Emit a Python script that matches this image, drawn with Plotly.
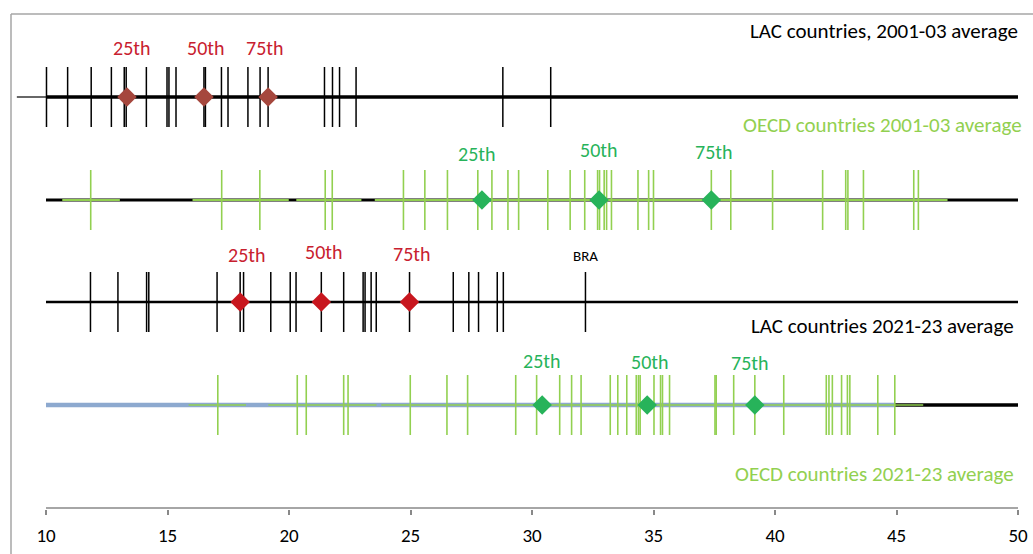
import plotly.graph_objects as go

# ---------------- data ----------------
lac_2001 = [10.02, 10.89, 11.86, 12.69, 13.22, 13.30, 14.13, 14.98, 15.06, 15.35,
            16.50, 16.56, 17.22, 17.49, 18.31, 18.81, 19.14, 21.46, 21.79, 22.08,
            22.76, 28.80, 30.77]
lac_2001_pct = [13.33, 16.50, 19.14]

oecd_2001 = [11.84, 17.23, 18.80, 21.49, 21.78, 24.71, 25.59, 26.52, 27.77, 28.35,
             29.01, 29.45, 30.65, 31.57, 32.17, 32.70, 32.78, 32.97, 33.07, 33.27,
             34.36, 34.80, 35.00, 37.38, 38.18, 39.90, 41.96, 42.91, 43.00, 43.64,
             45.71, 45.90]
oecd_2001_pct = [27.94, 32.76, 37.38]

lac_2021 = [11.83, 12.96, 14.14, 14.23, 17.04, 17.99, 18.13, 19.25, 20.05, 20.29,
            21.33, 22.25, 23.05, 23.13, 23.38, 23.59, 24.96, 26.76, 27.40, 27.80,
            28.57, 28.82, 32.20]
lac_2021_pct = [17.99, 21.33, 24.96]
bra_2021 = 32.20

oecd_2021 = [17.07, 20.34, 20.71, 22.25, 22.43, 24.99, 26.50, 27.35, 29.33, 30.19,
             31.14, 31.63, 32.02, 33.22, 33.53, 33.90, 34.29, 34.38, 34.45, 35.02,
             35.29, 35.37, 35.66, 37.53, 37.58, 38.30, 39.17, 40.36, 42.11, 42.22,
             42.36, 42.74, 42.98, 43.08, 44.23, 44.93]
oecd_2021_pct = [30.42, 34.74, 39.17]

pct_labels = ["25th", "50th", "75th"]
tick_vals = [10, 15, 20, 25, 30, 35, 40, 45, 50]
titles = ["LAC countries, 2001-03 average", "OECD countries 2001-03 average",
          "LAC countries 2021-23 average", "OECD countries 2021-23 average"]

# ---------------- styling / layout constants ----------------
FONT = "Carlito, Lato, sans-serif"
BLACK = "#000000"
LGREEN = "#92D050"
DGREEN = "#27B35A"
RED_TXT = "#C8202F"
RED1 = "#A5473D"
RED3 = "#C8161E"
BLUE = "#8DA9CF"
AXIS_GRAY = "#898989"

ROW_Y = [97, 200, 302, 405]   # baseline pixel rows (y axis is pixel-like)
HALF = 30
PLOT_L, PLOT_W = 11, 1007

fig = go.Figure()


def hline(x0, x1, y, color, width):
    fig.add_trace(go.Scatter(x=[x0, x1], y=[y, y], mode="lines",
                             line=dict(color=color, width=width),
                             hoverinfo="skip", showlegend=False))


def vlines(vals, y, color, width):
    xs, ys = [], []
    for v in vals:
        xs += [v, v, None]
        ys += [y - HALF, y + HALF, None]
    fig.add_trace(go.Scatter(x=xs, y=ys, mode="lines",
                             line=dict(color=color, width=width),
                             hoverinfo="skip", showlegend=False))


def diamonds(vals, y, color):
    fig.add_trace(go.Scatter(x=vals, y=[y] * len(vals), mode="markers",
                             marker=dict(symbol="diamond", size=15, color=color),
                             hoverinfo="skip", showlegend=False, cliponaxis=False))


# Row 1: LAC 2001-03
hline(8.8, 10, ROW_Y[0], BLACK, 1.2)
hline(10, 50, ROW_Y[0], BLACK, 3.5)
vlines(lac_2001, ROW_Y[0], BLACK, 1.5)
diamonds(lac_2001_pct, ROW_Y[0], RED1)

# Row 2: OECD 2001-03
hline(10, 50, ROW_Y[1], BLACK, 3)
for a, b in [(10.67, 13.04), (16.03, 19.99), (20.30, 22.98), (23.53, 47.1)]:
    hline(a, b, ROW_Y[1], LGREEN, 1.8)
vlines(oecd_2001, ROW_Y[1], LGREEN, 1.6)
diamonds(oecd_2001_pct, ROW_Y[1], DGREEN)

# Row 3: LAC 2021-23
hline(10, 50, ROW_Y[2], BLACK, 2.6)
vlines(lac_2021, ROW_Y[2], BLACK, 1.5)
diamonds(lac_2021_pct, ROW_Y[2], RED3)

# Row 4: OECD 2021-23
hline(10, 50, ROW_Y[3], BLACK, 3.5)
hline(10, max(oecd_2021), ROW_Y[3], BLUE, 4.5)
for a, b in [(15.87, 18.23), (19.15, 23.6), (23.8, 46.1)]:
    hline(a, b, ROW_Y[3], LGREEN, 1.6)
vlines(oecd_2021, ROW_Y[3], LGREEN, 1.6)
diamonds(oecd_2021_pct, ROW_Y[3], DGREEN)

# x axis line
hline(10, 50, 508, AXIS_GRAY, 1.5)

ann = []
# percentile labels
lab_pos = [
    ([13.53, 16.57, 19.00], [48, 48, 48], RED_TXT),
    ([27.72, 32.72, 37.45], [153.5, 149.5, 152], DGREEN),
    ([18.26, 21.41, 25.06], [254.5, 252, 254], RED_TXT),
    ([30.39, 34.84, 38.97], [361, 362, 363], DGREEN),
]
for xs, ys, col in lab_pos:
    for t, xv, yv in zip(pct_labels, xs, ys):
        ann.append(dict(x=xv, y=yv, xref="x", yref="y", text=t, showarrow=False,
                        xanchor="center", yanchor="middle",
                        font=dict(family=FONT, size=20, color=col)))
ann.append(dict(x=bra_2021, y=256, xref="x", yref="y", text="BRA", showarrow=False,
                xanchor="center", yanchor="middle",
                font=dict(family=FONT, size=15, color=BLACK)))

# row titles (right edge in pixels, centre y in pixel rows)
title_pos = [(1020, 31, BLACK), (1024, 125, LGREEN), (1016, 326, BLACK), (1016, 474, LGREEN)]
for t, (px, yv, col) in zip(titles, title_pos):
    ann.append(dict(x=(px - PLOT_L) / PLOT_W, y=yv, xref="paper", yref="y", text=t,
                    showarrow=False, xanchor="right", yanchor="middle",
                    font=dict(family=FONT, size=21, color=col)))

top_frame = (509 - 14) / 509
fig.update_layout(
    width=1033, height=554,
    margin=dict(l=PLOT_L, r=1033 - PLOT_L - PLOT_W, t=0, b=45),
    paper_bgcolor="white", plot_bgcolor="white",
    showlegend=False,
    annotations=ann,
    xaxis=dict(range=[10 - 35 / 24.3, 50], tickvals=tick_vals, ticktext=[str(v) for v in tick_vals],
               ticks="outside", ticklen=5, tickwidth=1.5, tickcolor=AXIS_GRAY,
               showline=False, showgrid=False, zeroline=False,
               tickfont=dict(family=FONT, size=19, color=BLACK),
               ticklabelstandoff=4, fixedrange=True),
    yaxis=dict(range=[509, 0], visible=False, showgrid=False, zeroline=False, fixedrange=True),
    shapes=[dict(type="line", xref="paper", yref="paper", x0=0, x1=0, y0=-45 / 509, y1=top_frame,
                 line=dict(color="#A6A6A6", width=1.5)),
            dict(type="line", xref="paper", yref="paper", x0=0, x1=1.02, y0=top_frame,
                 y1=top_frame, line=dict(color="#A6A6A6", width=1.5))],
)

fig.write_html("out.html", config={"displayModeBar": False})
